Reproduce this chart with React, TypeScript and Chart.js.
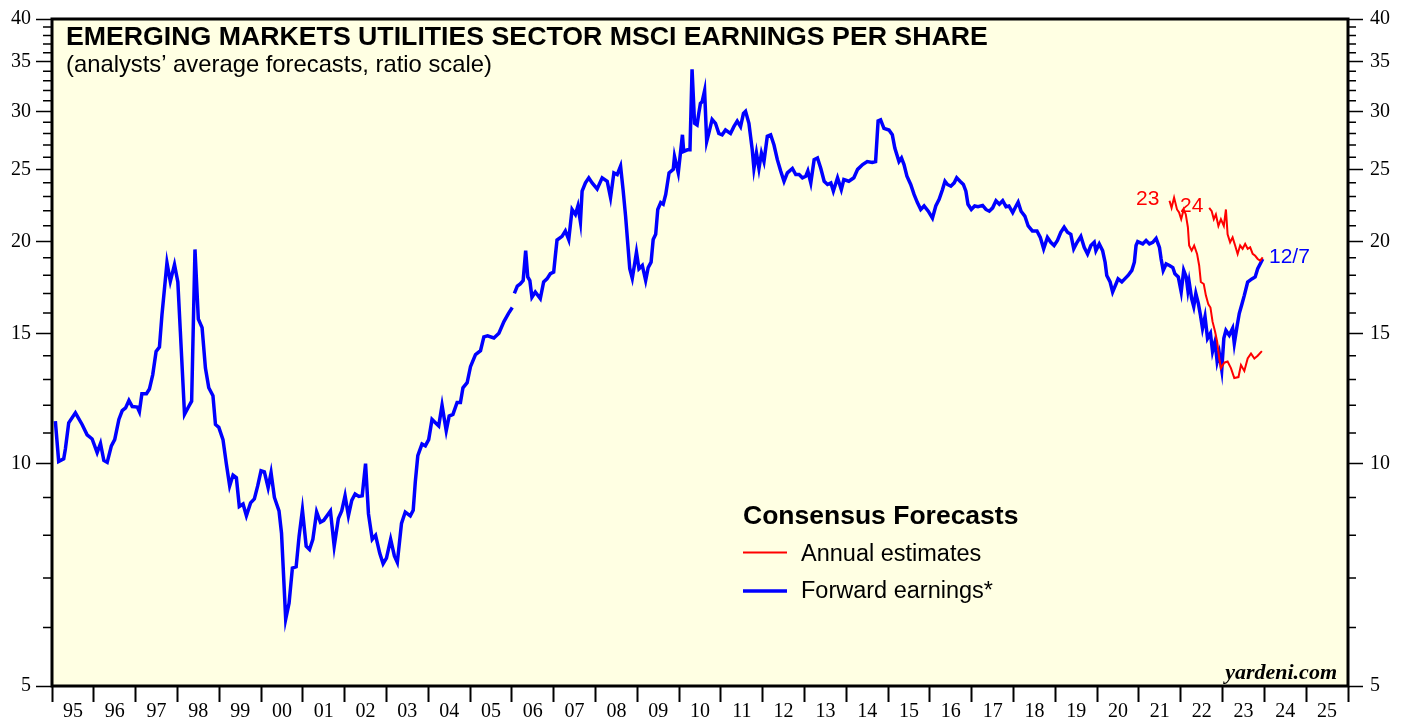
import React, { useEffect, useRef } from 'react';
import { Chart, registerables } from 'chart.js';

Chart.register(...registerables);

const W = 1407;
const H = 719;

// X axis: calendar years (ticks on year boundaries, labels centred within the year)
const YEAR_MIN = 1995;
const YEAR_MAX = 2026;

// Y axis (ratio scale)
const Y_MIN = 5;
const Y_MAX = 40;
const Y_MAJOR = [5, 10, 15, 20, 25, 30, 35, 40];
const Y_MINOR = [6, 7, 8, 9, 11, 12, 13, 14, 16, 17, 18, 19, 21, 22, 23, 24, 26, 27, 28, 29, 31, 32, 33, 34, 36, 37, 38, 39];

// Forward earnings (blue)
const FWD_DATES = [
  1995.08, 1995.16, 1995.28, 1995.32, 1995.40, 1995.56, 1995.72, 1995.84, 1995.96,
  1996.08, 1996.16, 1996.24, 1996.32, 1996.42, 1996.50, 1996.60, 1996.68, 1996.76, 1996.84, 1996.92,
  1997.04, 1997.09, 1997.15, 1997.26, 1997.33, 1997.41, 1997.49, 1997.57, 1997.63, 1997.75, 1997.83, 1997.93,
  1998.01, 1998.07, 1998.17, 1998.27, 1998.34, 1998.42, 1998.50, 1998.59, 1998.67, 1998.75, 1998.85, 1998.91, 1998.99,
  1999.09, 1999.17, 1999.25, 1999.33, 1999.41, 1999.48, 1999.57, 1999.65, 1999.75, 1999.84, 1999.92,
  2000.00, 2000.08, 2000.17, 2000.24, 2000.32, 2000.43, 2000.49, 2000.59, 2000.67, 2000.75, 2000.84, 2000.91, 2000.99,
  2001.08, 2001.16, 2001.24, 2001.33, 2001.42, 2001.50, 2001.66, 2001.75, 2001.85, 2001.93,
  2002.01, 2002.09, 2002.17, 2002.25, 2002.34, 2002.42, 2002.50, 2002.57, 2002.66, 2002.74, 2002.84, 2002.92,
  2003.00, 2003.10, 2003.19, 2003.26, 2003.36, 2003.45, 2003.57, 2003.64, 2003.69, 2003.75, 2003.85, 2003.93,
  2004.01, 2004.09, 2004.25, 2004.33, 2004.43, 2004.50, 2004.59, 2004.69, 2004.77, 2004.83, 2004.93,
  2005.01, 2005.13, 2005.25, 2005.33, 2005.42, 2005.57, 2005.69, 2005.81, 2005.92, 2006.01,
  2006.035,
  2006.06, 2006.13, 2006.20, 2006.27, 2006.33, 2006.38, 2006.43, 2006.48, 2006.56, 2006.68, 2006.76, 2006.84, 2006.92,
  2007.00, 2007.04, 2007.08, 2007.20, 2007.28, 2007.36, 2007.44, 2007.52, 2007.58, 2007.64, 2007.68, 2007.76, 2007.84, 2007.92,
  2008.04, 2008.16, 2008.28, 2008.36, 2008.44, 2008.52, 2008.60, 2008.66, 2008.72, 2008.77, 2008.82, 2008.88, 2008.93, 2008.98,
  2009.04, 2009.12, 2009.20, 2009.26, 2009.33, 2009.38, 2009.44, 2009.49, 2009.56, 2009.62, 2009.68, 2009.76, 2009.86, 2009.89, 2009.98,
  2010.08, 2010.11, 2010.20, 2010.26, 2010.31, 2010.37, 2010.43, 2010.47, 2010.51, 2010.55, 2010.61, 2010.66, 2010.71, 2010.79, 2010.87, 2010.95,
  2011.03, 2011.11, 2011.23, 2011.31, 2011.39, 2011.47, 2011.54, 2011.59, 2011.67, 2011.75, 2011.79, 2011.85, 2011.91, 2011.97,
  2012.03, 2012.11, 2012.19, 2012.27, 2012.35, 2012.43, 2012.51, 2012.59, 2012.71, 2012.79, 2012.87, 2012.95,
  2013.03, 2013.08, 2013.15, 2013.23, 2013.31, 2013.39, 2013.47, 2013.55, 2013.63, 2013.69, 2013.79, 2013.88, 2013.94,
  2014.06, 2014.18, 2014.27, 2014.39, 2014.50, 2014.62, 2014.70, 2014.76, 2014.82, 2014.90,
  2015.02, 2015.10, 2015.16, 2015.26, 2015.32, 2015.38, 2015.45, 2015.54, 2015.62, 2015.70, 2015.78, 2015.86, 2015.96,
  2016.06, 2016.14, 2016.22, 2016.30, 2016.36, 2016.42, 2016.50, 2016.58, 2016.64, 2016.72, 2016.80, 2016.86, 2016.91, 2016.99,
  2017.07, 2017.15, 2017.26, 2017.34, 2017.42, 2017.50, 2017.58, 2017.66, 2017.74, 2017.82, 2017.89, 2017.98,
  2018.06, 2018.11, 2018.18, 2018.27, 2018.35, 2018.45, 2018.56, 2018.64, 2018.72, 2018.81, 2018.89, 2018.97,
  2019.05, 2019.13, 2019.21, 2019.29, 2019.37, 2019.44, 2019.52, 2019.61, 2019.69, 2019.77, 2019.85, 2019.93, 2019.97,
  2020.05, 2020.13, 2020.19, 2020.23, 2020.31, 2020.37, 2020.45, 2020.50, 2020.59, 2020.66, 2020.74, 2020.83, 2020.89, 2020.93, 2020.97,
  2021.09, 2021.17, 2021.25, 2021.33, 2021.41, 2021.49, 2021.53, 2021.58, 2021.65, 2021.73, 2021.81, 2021.86, 2021.94,
  2022.01, 2022.07, 2022.13, 2022.17, 2022.20, 2022.26, 2022.31, 2022.36, 2022.42, 2022.47, 2022.52, 2022.58, 2022.64, 2022.71, 2022.76, 2022.82, 2022.87, 2022.92, 2022.98,
  2023.03, 2023.08, 2023.16, 2023.24, 2023.28, 2023.35, 2023.40, 2023.46, 2023.52, 2023.60, 2023.70, 2023.78, 2023.84, 2023.92, 2023.96,
];

const FWD_VALUES = [
  11.42, 10.07, 10.15, 10.47, 11.36, 11.72, 11.3, 10.94, 10.8,
  10.35, 10.65, 10.1, 10.04, 10.57, 10.78, 11.48, 11.8, 11.9, 12.18, 11.95,
  11.93, 11.76, 12.44, 12.44, 12.62, 13.2, 14.19, 14.38, 15.9, 18.7, 17.65, 18.6,
  17.62, 15.1, 11.66, 11.95, 12.15, 19.5, 15.7, 15.28, 13.47, 12.67, 12.36, 11.3, 11.2,
  10.78, 10.0, 9.33, 9.65, 9.57, 8.75, 8.82, 8.5, 8.85, 8.96, 9.33,
  9.78, 9.75, 9.28, 9.72, 9.0, 8.63, 8.05, 6.16, 6.47, 7.22, 7.25, 7.97, 8.66,
  7.73, 7.65, 7.9, 8.6, 8.33, 8.38, 8.63, 7.73, 8.43, 8.63,
  9.05, 8.5, 8.92, 9.1, 9.03, 9.05, 10.0, 8.55, 7.9, 8.0, 7.56, 7.32,
  7.45, 7.9, 7.5, 7.35, 8.3, 8.6, 8.5, 8.65, 9.45, 10.25, 10.63, 10.57,
  10.78, 11.48, 11.25, 12.0, 11.08, 11.6, 11.66, 12.1, 12.1, 12.67, 12.87,
  13.53, 14.05, 14.22, 14.85, 14.9, 14.8, 15.02, 15.57, 15.98, 16.27,
  null,
  17.0, 17.39, 17.51, 17.7, 19.43, 17.9, 17.7, 16.8, 17.08, 16.73, 17.62, 17.79, 18.08,
  18.17, 19.12, 20.08, 20.31, 20.66, 20.11, 22.09, 21.75, 22.33, 21.25, 23.39, 24.0, 24.38, 24.0,
  23.55, 24.38, 24.12, 22.92, 24.76, 24.63, 25.29, 23.5, 21.64, 19.94, 18.36, 17.82, 18.55, 19.33,
  18.36, 18.55, 17.7, 18.43, 18.74, 20.11, 20.44, 22.09, 22.57, 22.45, 23.15, 24.76, 25.03, 26.06, 24.76,
  27.88, 26.47, 26.6, 26.6, 34.2, 28.9, 28.75, 29.8, 30.75, 30.9, 32.0, 27.3, 28.0, 29.25, 28.9, 28.0,
  27.88, 28.3, 28.0, 28.6, 29.1, 28.6, 29.8, 30.0, 28.9, 26.6, 25.1, 26.34, 25.1, 26.34,
  25.65, 27.75, 27.88, 27.0, 25.8, 24.9, 24.12, 24.76, 25.1, 24.63, 24.63, 24.38,
  24.5, 24.9, 24.0, 25.8, 25.94, 25.1, 24.12, 23.88, 24.0, 23.39, 24.38, 23.5, 24.25,
  24.12, 24.38, 25.03, 25.41, 25.65, 25.58, 25.65, 29.1, 29.2, 28.45,
  28.3, 27.88, 26.75, 25.65, 25.94, 25.41, 24.5, 23.88, 23.15, 22.57, 22.09, 22.33, 21.97,
  21.5, 22.33, 22.8, 23.5, 24.12, 23.88, 23.75, 24.0, 24.38, 24.12, 23.88, 23.39, 22.45, 22.09,
  22.33, 22.28, 22.37, 22.09, 21.97, 22.2, 22.7, 22.45, 22.7, 22.28, 22.33, 21.88,
  22.33, 22.6, 21.97, 21.64, 20.98, 20.66, 20.66, 20.25, 19.54, 20.25, 19.94, 19.74,
  20.05, 20.57, 20.9, 20.57, 20.44, 19.54, 19.94, 20.31, 19.63, 19.23, 19.74, 19.94, 19.43,
  19.84, 19.43, 18.74, 17.98, 17.62, 17.08, 17.51, 17.79, 17.62, 17.79, 17.98, 18.27, 18.74, 19.74, 19.98,
  19.84, 20.05, 19.84, 19.94, 20.18, 19.63, 18.93, 18.27, 18.64, 18.55, 18.43, 18.08, 17.9,
  17.08, 18.27, 17.9, 17.17, 17.62, 16.73, 16.32, 17.0, 16.48, 15.9, 15.25, 15.82, 14.78, 15.02, 14.19, 14.63, 13.75, 14.12, 13.4,
  14.78, 15.15, 14.92, 15.25, 14.55, 15.4, 15.98, 16.43, 16.9, 17.62, 17.79, 17.9, 18.36, 18.74, 18.93,
];

// Annual estimates for 2023 (red)
const EST23_DATES = [
  2021.73, 2021.78, 2021.84, 2021.91, 2021.96, 2022.01, 2022.07, 2022.12, 2022.17, 2022.20, 2022.26, 2022.32,
  2022.39, 2022.44, 2022.48, 2022.55, 2022.60, 2022.66, 2022.71, 2022.76, 2022.82, 2022.87, 2022.92, 2022.96,
  2023.04, 2023.12, 2023.20, 2023.28, 2023.38, 2023.44, 2023.52, 2023.60, 2023.68, 2023.76, 2023.84, 2023.94,
];
const EST23_VALUES = [
  22.7, 22.2, 22.92, 22.09, 21.88, 21.43, 22.09, 21.75, 20.9, 19.74, 19.43, 19.74,
  19.23, 18.55, 17.62, 17.51, 16.9, 16.43, 16.27, 15.57, 15.1, 14.63, 13.9, 13.47,
  13.7, 13.75, 13.47, 13.06, 13.1, 13.6, 13.35, 13.88, 14.1, 13.88, 14.0, 14.2,
];

// Annual estimates for 2024 (red)
const EST24_DATES = [
  2022.68, 2022.74, 2022.79, 2022.84, 2022.90, 2022.96, 2023.03, 2023.08, 2023.12, 2023.18, 2023.24, 2023.30,
  2023.36, 2023.42, 2023.48, 2023.54, 2023.60, 2023.66, 2023.72, 2023.78, 2023.84, 2023.90, 2023.96,
];
const EST24_VALUES = [
  22.2, 21.97, 21.43, 21.75, 20.98, 21.43, 20.98, 22.09, 20.44, 19.94, 20.25, 19.74,
  19.23, 19.74, 19.54, 19.84, 19.54, 19.63, 19.23, 19.12, 18.93, 18.83, 19.03,
];

const TITLE = 'EMERGING MARKETS UTILITIES SECTOR MSCI EARNINGS PER SHARE';
const SUBTITLE = '(analysts\u2019 average forecasts, ratio scale)';
const LEGEND_TITLE = 'Consensus Forecasts';
const LEGEND_ITEMS = ['Annual estimates', 'Forward earnings*'];

const BLUE = '#0000ff';
const RED = '#ff0000';
const BG = '#ffffe3';
const SANS = "'Liberation Sans', Arial, Helvetica, sans-serif";
const SERIF = "'Liberation Serif', 'Times New Roman', Times, serif";

const toPoints = (xs: number[], ys: (number | null)[]) => xs.map((x, i) => ({ x, y: ys[i] }));

const decorPlugin = {
  id: 'decor',
  beforeDraw(chart: any) {
    const { ctx, chartArea: a } = chart;
    ctx.save();
    ctx.fillStyle = '#ffffff';
    ctx.fillRect(0, 0, chart.width, chart.height);
    ctx.fillStyle = BG;
    ctx.fillRect(a.left, a.top, a.right - a.left, a.bottom - a.top);
    ctx.restore();
  },
  afterDraw(chart: any) {
    const { ctx, chartArea: a, scales } = chart;
    ctx.save();
    // minor ticks on both value axes (outward)
    ctx.strokeStyle = '#000';
    ctx.lineWidth = 1.5;
    ctx.beginPath();
    for (const v of Y_MINOR) {
      const y = scales.y.getPixelForValue(v);
      ctx.moveTo(a.left - 9, y);
      ctx.lineTo(a.left, y);
      ctx.moveTo(a.right, y);
      ctx.lineTo(a.right + 8, y);
    }
    ctx.stroke();
    // plot frame
    ctx.lineWidth = 3;
    ctx.strokeRect(a.left, a.top, a.right - a.left, a.bottom - a.top);

    // titles
    ctx.fillStyle = '#000';
    ctx.textAlign = 'left';
    ctx.textBaseline = 'alphabetic';
    ctx.font = `bold 26.7px ${SANS}`;
    ctx.fillText(TITLE, 66, 45);
    ctx.font = `23.8px ${SANS}`;
    ctx.fillText(SUBTITLE, 66, 72);

    // legend
    ctx.font = `bold 26.5px ${SANS}`;
    ctx.fillText(LEGEND_TITLE, 743, 524);
    ctx.font = `23.5px ${SANS}`;
    ctx.fillText(LEGEND_ITEMS[0], 801, 561);
    ctx.fillText(LEGEND_ITEMS[1], 801, 598);
    ctx.lineWidth = 2;
    ctx.strokeStyle = RED;
    ctx.beginPath();
    ctx.moveTo(743, 552.5);
    ctx.lineTo(787, 552.5);
    ctx.stroke();
    ctx.lineWidth = 3.5;
    ctx.strokeStyle = BLUE;
    ctx.beginPath();
    ctx.moveTo(743, 591);
    ctx.lineTo(787, 591);
    ctx.stroke();

    // series labels
    ctx.font = `21px ${SANS}`;
    ctx.fillStyle = RED;
    ctx.fillText('23', 1136, 205);
    ctx.fillText('24', 1180, 212);
    ctx.fillStyle = BLUE;
    ctx.fillText('12/7', 1269, 263);

    // source
    ctx.fillStyle = '#000';
    ctx.textAlign = 'right';
    ctx.font = `italic bold 22px ${SERIF}`;
    ctx.fillText('yardeni.com', 1337, 679);
    ctx.restore();
  },
};

export default function App() {
  const ref = useRef<HTMLCanvasElement | null>(null);

  useEffect(() => {
    document.body.style.margin = '0';
    const canvas = ref.current;
    if (!canvas) return;
    const yAxisCommon = (position: 'left' | 'right', width: number, tl: number, pad: number) => ({
      type: 'logarithmic' as const,
      position,
      min: Y_MIN,
      max: Y_MAX,
      afterBuildTicks: (s: any) => {
        s.ticks = Y_MAJOR.map((v) => ({ value: v }));
      },
      afterFit: (s: any) => {
        s.width = width;
      },
      ticks: {
        callback: (v: any) => String(v),
        color: '#000',
        font: { family: SERIF, size: 20 },
        padding: pad,
        autoSkip: false,
      },
      grid: {
        drawOnChartArea: false,
        drawTicks: true,
        tickLength: tl,
        tickColor: '#000',
        tickWidth: 1.5,
      },
      border: { display: false },
    });

    const chart = new Chart(canvas, {
      type: 'line',
      data: {
        datasets: [
          {
            label: '2023 estimates',
            data: toPoints(EST23_DATES, EST23_VALUES),
            borderColor: RED,
            borderWidth: 2,
            pointRadius: 0,
            tension: 0,
            yAxisID: 'y',
          },
          {
            label: '2024 estimates',
            data: toPoints(EST24_DATES, EST24_VALUES),
            borderColor: RED,
            borderWidth: 2,
            pointRadius: 0,
            tension: 0,
            yAxisID: 'y',
          },
          {
            label: 'Forward earnings',
            data: toPoints(FWD_DATES, FWD_VALUES),
            borderColor: BLUE,
            borderWidth: 3.5,
            pointRadius: 0,
            tension: 0,
            spanGaps: false,
            yAxisID: 'y',
          },
        ],
      },
      options: {
        animation: false,
        responsive: false,
        devicePixelRatio: 1,
        parsing: true,
        layout: { padding: { top: 15, left: 0, right: 0, bottom: 0 } },
        plugins: {
          legend: { display: false },
          tooltip: { enabled: false },
          title: { display: false },
        },
        scales: {
          x: {
            type: 'linear',
            position: 'bottom',
            min: YEAR_MIN,
            max: YEAR_MAX,
            afterFit: (s: any) => {
              s.height = 33;
            },
            ticks: {
              stepSize: 1,
              autoSkip: false,
              maxRotation: 0,
              minRotation: 0,
              labelOffset: 20.9,
              padding: -2,
              color: '#000',
              font: { family: SERIF, size: 20 },
              callback: (v: any) => (Number(v) >= YEAR_MAX ? '' : String(Number(v) % 100).padStart(2, '0')),
            },
            grid: {
              drawOnChartArea: false,
              drawTicks: true,
              tickLength: 16,
              tickColor: '#000',
              tickWidth: 2,
            },
            border: { display: false },
          },
          y: yAxisCommon('left', 52, 16, 5),
          y2: yAxisCommon('right', 59, 15, 7),
        },
      },
      plugins: [decorPlugin],
    } as any);
    return () => chart.destroy();
  }, []);

  return <canvas ref={ref} width={W} height={H} style={{ display: 'block' }} />;
}
